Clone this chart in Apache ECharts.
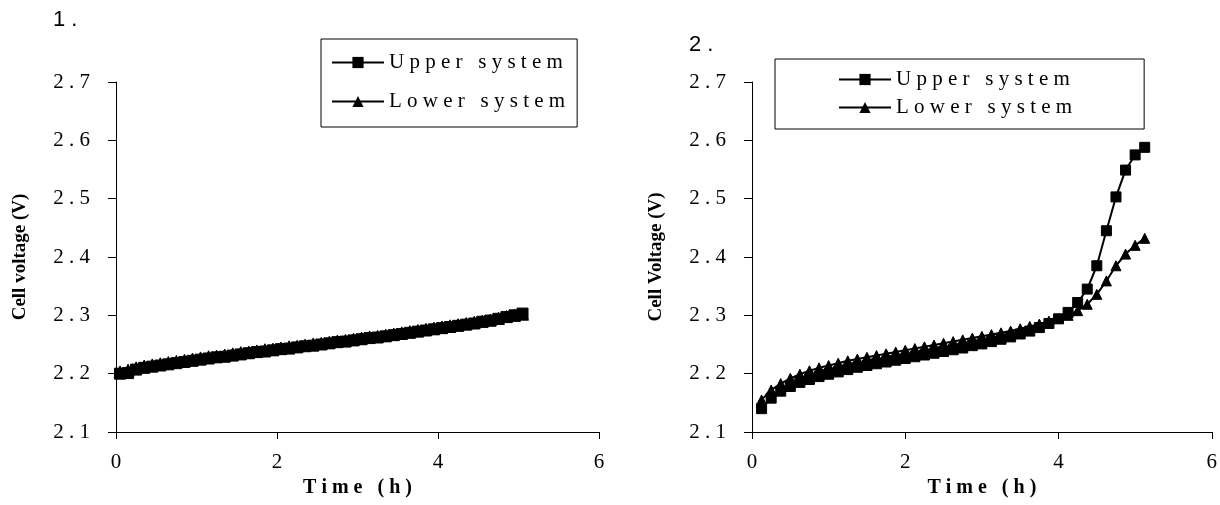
<!DOCTYPE html>
<html>
<head>
<meta charset="utf-8">
<script src="https://cdn.jsdelivr.net/npm/echarts@6/dist/echarts.min.js"></script>
<style>
  html, body { margin: 0; padding: 0; background: #fff; }
  #main { width: 1220px; height: 505px; }
</style>
</head>
<body>
<div id="main"></div>
<script>
// chart 1 (left)
const time1 = [0.05, 0.15, 0.25, 0.35, 0.45, 0.55, 0.65, 0.75, 0.85, 0.95,
  1.05, 1.15, 1.25, 1.35, 1.45, 1.55, 1.65, 1.75, 1.85, 1.95,
  2.05, 2.15, 2.25, 2.35, 2.45, 2.55, 2.65, 2.75, 2.85, 2.95,
  3.05, 3.15, 3.25, 3.35, 3.45, 3.55, 3.65, 3.75, 3.85, 3.95,
  4.05, 4.15, 4.25, 4.35, 4.45, 4.55, 4.65, 4.75, 4.85, 4.95, 5.05]
const upper1 = [2.200, 2.201, 2.207, 2.210, 2.212, 2.214, 2.216, 2.218, 2.220, 2.222,
  2.224, 2.226, 2.228, 2.229, 2.231, 2.233, 2.235, 2.237, 2.238, 2.240,
  2.242, 2.243, 2.245, 2.247, 2.248, 2.250, 2.252, 2.254, 2.255, 2.257,
  2.259, 2.261, 2.262, 2.264, 2.266, 2.268, 2.270, 2.272, 2.274, 2.276,
  2.278, 2.280, 2.282, 2.284, 2.286, 2.289, 2.291, 2.294, 2.297, 2.300, 2.303]
const lower1 = [2.203, 2.206, 2.210, 2.213, 2.215, 2.217, 2.219, 2.221, 2.223, 2.225,
  2.227, 2.229, 2.230, 2.232, 2.234, 2.236, 2.237, 2.239, 2.241, 2.242,
  2.244, 2.246, 2.247, 2.249, 2.251, 2.252, 2.254, 2.256, 2.257, 2.259,
  2.261, 2.263, 2.264, 2.266, 2.268, 2.270, 2.272, 2.274, 2.276, 2.278,
  2.280, 2.282, 2.284, 2.286, 2.288, 2.290, 2.292, 2.295, 2.298, 2.300, 2.302]

// chart 2 (right)
const time2 = [0.125, 0.25, 0.375, 0.5, 0.625, 0.75, 0.875, 1.0, 1.125, 1.25,
  1.375, 1.5, 1.625, 1.75, 1.875, 2.0, 2.125, 2.25, 2.375, 2.5,
  2.625, 2.75, 2.875, 3.0, 3.125, 3.25, 3.375, 3.5, 3.625, 3.75,
  3.875, 4.0, 4.125, 4.25, 4.375, 4.5, 4.625, 4.75, 4.875, 5.0, 5.125]
const upper2 = [2.140, 2.158, 2.170, 2.178, 2.185, 2.190, 2.195, 2.199, 2.203, 2.207,
  2.211, 2.214, 2.217, 2.220, 2.223, 2.226, 2.229, 2.232, 2.235, 2.238,
  2.241, 2.244, 2.248, 2.251, 2.255, 2.259, 2.263, 2.268, 2.273, 2.279,
  2.286, 2.294, 2.305, 2.322, 2.345, 2.385, 2.445, 2.503, 2.549, 2.575, 2.588]
const lower2 = [2.155, 2.172, 2.183, 2.192, 2.199, 2.205, 2.210, 2.214, 2.218, 2.222,
  2.225, 2.228, 2.231, 2.234, 2.237, 2.240, 2.243, 2.246, 2.249, 2.252,
  2.255, 2.258, 2.261, 2.264, 2.267, 2.270, 2.273, 2.277, 2.281, 2.285,
  2.290, 2.295, 2.300, 2.308, 2.319, 2.336, 2.359, 2.385, 2.405, 2.420, 2.432]

const xTicks = { min: 0, max: 6, interval: 2 }
const yTicks = { min: 2.1, max: 2.7, interval: 0.1 }
const names = ['Upper system', 'Lower system']

const serif = '"Liberation Serif", "DejaVu Serif", serif'
const spaced = s => s.split('').join(' ')

function pairs(t, v) {
  return t.map((x, i) => [x, v[i]])
}

function xAxis(grid) {
  return {
    type: 'value', gridIndex: grid, ...xTicks,
    name: 'T i m e   ( h )', nameLocation: 'middle', nameGap: 46,
    nameTextStyle: { fontFamily: serif, fontWeight: 'bold', fontSize: 20, color: '#000' },
    axisLine: { lineStyle: { color: '#000', width: 1 } },
    axisTick: { length: 7, lineStyle: { color: '#000' } },
    axisLabel: { fontFamily: serif, fontSize: 21, color: '#000', margin: 20 },
    splitLine: { show: false }
  }
}

function yAxis(grid, title) {
  return {
    type: 'value', gridIndex: grid, ...yTicks,
    name: title, nameLocation: 'middle', nameGap: 86,
    nameTextStyle: { fontFamily: serif, fontWeight: 'bold', fontSize: 19, color: '#000' },
    axisLine: { show: true, lineStyle: { color: '#000', width: 1 } },
    axisTick: { show: true, length: 8, lineStyle: { color: '#000' } },
    axisLabel: {
      fontFamily: serif, fontSize: 21, color: '#000', margin: 26,
      formatter: v => spaced(v.toFixed(1))
    },
    splitLine: { show: false }
  }
}

function series(name, grid, t, v, symbol, size) {
  return {
    name, type: 'line', xAxisIndex: grid, yAxisIndex: grid,
    data: pairs(t, v),
    symbol, symbolSize: size, showSymbol: true,
    lineStyle: { color: '#000', width: 2 },
    itemStyle: { color: '#000', borderColor: '#000' },
    animation: false
  }
}

function legend(left, top, padding, gap) {
  return {
    orient: 'vertical', left, top, padding, itemGap: gap,
    itemWidth: 52, itemHeight: 14,
    borderColor: '#000', borderWidth: 1, borderRadius: 0,
    data: names,
    formatter: n => n.split(' ').map(spaced).join('   '),
    textStyle: { fontFamily: serif, fontSize: 21, color: '#000' }
  }
}

const chart = echarts.init(document.getElementById('main'))
chart.setOption({
  backgroundColor: '#fff',
  animation: false,
  graphic: [
    { type: 'text', left: 53, top: 9, style: { text: '1 .', font: '22px "Liberation Sans", sans-serif', fill: '#000' } },
    { type: 'text', left: 689, top: 34, style: { text: '2 .', font: '22px "Liberation Sans", sans-serif', fill: '#000' } }
  ],
  grid: [
    { left: 116, top: 82, width: 483, height: 350 },
    { left: 752, top: 82, width: 462, height: 350 }
  ],
  legend: [
    legend(321, 39, [13, 12, 15, 10], 18),
    legend(775, 59, [10, 72, 11, 63], 7)
  ],
  xAxis: [xAxis(0), xAxis(1)],
  yAxis: [yAxis(0, 'Cell voltage (V)'), yAxis(1, 'Cell Voltage (V)')],
  series: [
    series('Upper system', 0, time1, upper1, 'rect', 11),
    series('Lower system', 0, time1, lower1, 'triangle', 12),
    series('Upper system', 1, time2, upper2, 'rect', 10),
    series('Lower system', 1, time2, lower2, 'triangle', 10)
  ]
})
window.addEventListener('resize', () => chart.resize())
</script>
</body>
</html>
